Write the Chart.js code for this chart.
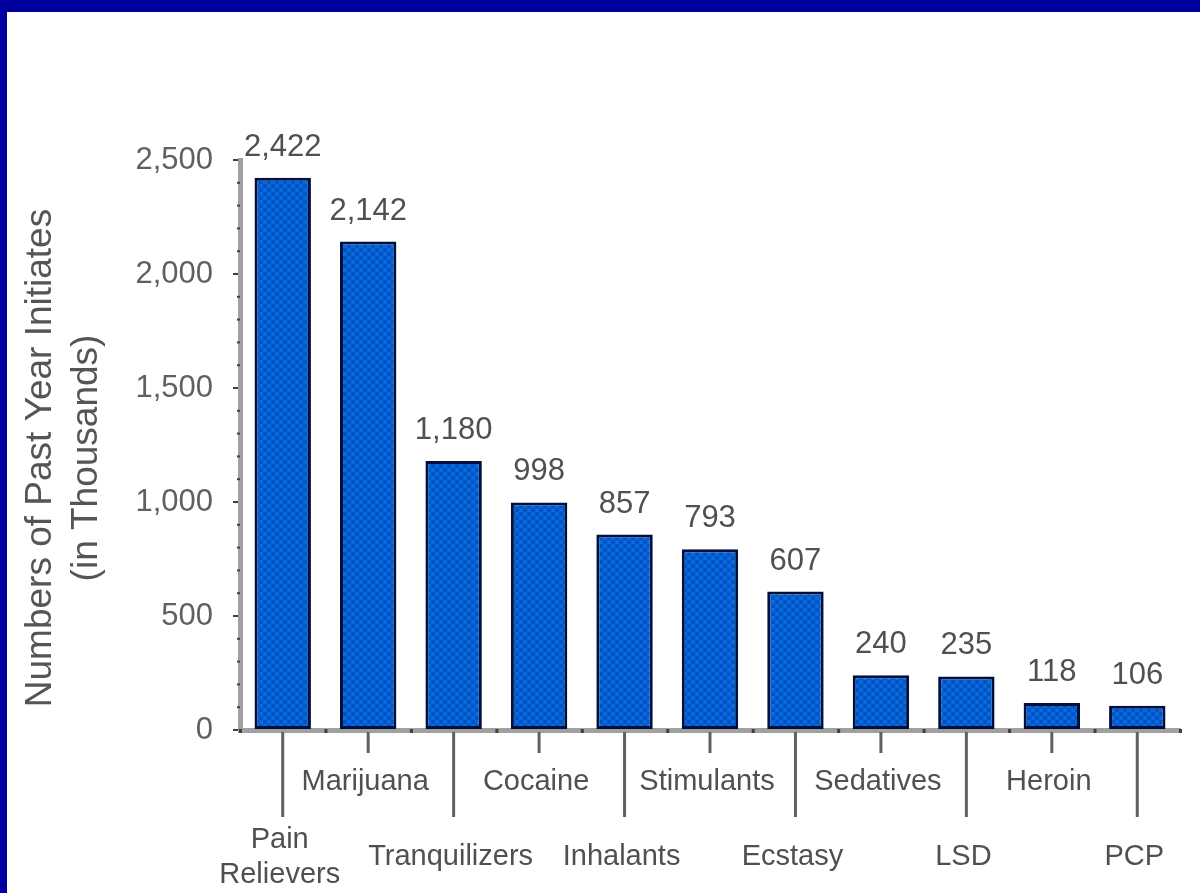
<!DOCTYPE html>
<html>
<head>
<meta charset="utf-8">
<script src="https://cdn.jsdelivr.net/npm/chart.js@4.4.0/dist/chart.umd.min.js"></script>
<style>
  html, body { margin: 0; padding: 0; background: #fff; }
  #frame { width: 1193px; height: 881px; border-top: 12px solid #0000a0; border-left: 7px solid #0000a0; position: relative; }
</style>
</head>
<body>
<div id="frame"><canvas id="initiatesChart"></canvas></div>
<script>
// Past year initiates by drug, in thousands
const categories = [['Pain', 'Relievers'], 'Marijuana', 'Tranquilizers', 'Cocaine', 'Inhalants', 'Stimulants', 'Ecstasy', 'Sedatives', 'LSD', 'Heroin', 'PCP'];
const initiates = [2422, 2142, 1180, 998, 857, 793, 607, 240, 235, 118, 106];
const yTicks = [0, 500, 1000, 1500, 2000, 2500];
const yTitle = ['Numbers of Past Year Initiates', '(in Thousands)'];

const FONT = "'Liberation Sans', Arial, sans-serif";
const canvas = document.getElementById('initiatesChart');
const ctx = canvas.getContext('2d');

// dotted blue fill like the old bitmap
function dotPattern() {
    const c = document.createElement('canvas');
    c.width = 8; c.height = 8;
    const g = c.getContext('2d');
    g.fillStyle = '#0058b0';
    g.fillRect(0, 0, 8, 8);
    g.fillStyle = '#0866f0';
    g.fillRect(0, 0, 4, 4);
    g.fillRect(4, 4, 4, 4);
    return ctx.createPattern(c, 'repeat');
}

const decor = {
    id: 'decor',
    afterDatasetsDraw(chart) {
        const { ctx, chartArea, scales: { x, y } } = chart;
        const bottom = chartArea.bottom;
        ctx.save();

        // values above bars
        ctx.font = '31px ' + FONT;
        ctx.fillStyle = '#505050';
        ctx.textAlign = 'center';
        ctx.textBaseline = 'alphabetic';
        chart.getDatasetMeta(0).data.forEach((bar, i) => {
            ctx.fillText(initiates[i].toLocaleString('en-US'), bar.x, bar.y - 22);
        });

        // staggered category ticks and labels
        ctx.font = '29px ' + FONT;
        categories.forEach((label, i) => {
            const cx = x.getPixelForValue(i);
            const low = i % 2 === 0;
            ctx.strokeStyle = '#606060';
            ctx.lineWidth = 3;
            ctx.beginPath();
            ctx.moveTo(cx, bottom + 2);
            ctx.lineTo(cx, bottom + (low ? 87 : 23));
            ctx.stroke();
            const lines = Array.isArray(label) ? label : [label];
            const base = low ? bottom + 135 : bottom + 60;
            lines.forEach((t, k) => {
                ctx.fillText(t, cx - 3, base - (lines.length - 1) * 17.5 + k * 35);
            });
        });

        // small marks between categories on the x axis
        ctx.fillStyle = '#404040';
        for (let i = 0; i <= categories.length; i++) {
            const bx = x.getPixelForValue(i - 0.5);
            ctx.fillRect(bx - 1, bottom - 1, 3, 4);
        }

        // minor ticks on the y axis
        for (let v = 100; v < 2500; v += 100) {
            if (v % 500 === 0) continue;
            ctx.fillRect(chartArea.left - 3, y.getPixelForValue(v) - 1, 3, 2);
        }

        // y axis title, two rotated lines
        ctx.font = '37px ' + FONT;
        ctx.fillStyle = '#555';
        const midY = (chartArea.top + chartArea.bottom) / 2 + 13;
        [chartArea.left - 199, chartArea.left - 153].forEach((tx, k) => {
            ctx.save();
            ctx.translate(tx, midY);
            ctx.rotate(-Math.PI / 2);
            ctx.textBaseline = 'middle';
            ctx.fillText(yTitle[k], 0, 0);
            ctx.restore();
        });

        ctx.restore();
    }
};

new Chart(ctx, {
    type: 'bar',
    data: {
        labels: categories,
        datasets: [{
            data: initiates,
            backgroundColor: dotPattern(),
            borderColor: '#00103c',
            borderWidth: 3,
            borderSkipped: false,
            barPercentage: 0.66,
            categoryPercentage: 1
        }]
    },
    options: {
        responsive: true,
        maintainAspectRatio: false,
        animation: false,
        layout: { padding: { top: 148, right: 20, left: 0, bottom: 0 } },
        plugins: {
            legend: { display: false },
            tooltip: { enabled: false }
        },
        scales: {
            x: {
                grid: { display: false },
                border: { color: '#a0a0a0', width: 5 },
                ticks: { display: false },
                afterFit: function(scale) { scale.height = 163; }
            },
            y: {
                min: 0,
                max: 2500,
                afterBuildTicks: function(scale) {
                    scale.ticks = yTicks.map(v => ({ value: v }));
                },
                grid: { drawOnChartArea: false, tickLength: 7, color: '#404040', lineWidth: 2 },
                border: { color: '#a0a0a0', width: 5 },
                ticks: {
                    padding: 20,
                    color: '#606060',
                    font: { family: FONT, size: 31 },
                    callback: function(value) { return value.toLocaleString('en-US'); }
                },
                afterFit: function(scale) { scale.width = 233; }
            }
        }
    },
    plugins: [decor]
});
</script>
</body>
</html>
